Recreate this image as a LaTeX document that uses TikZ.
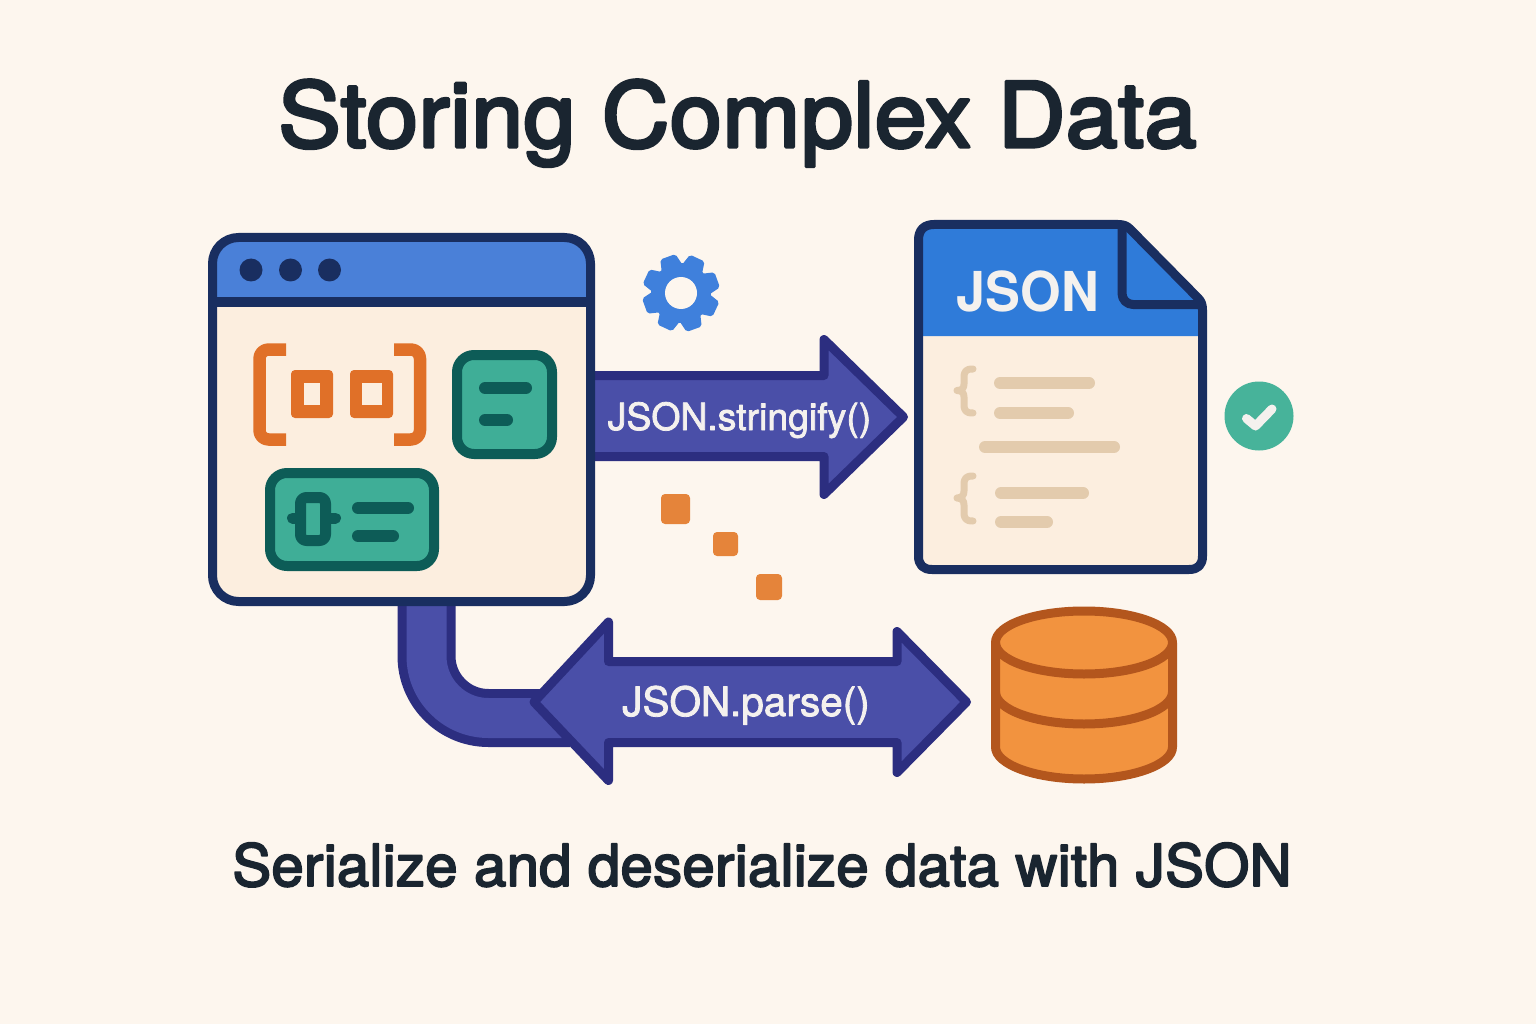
\documentclass[tikz,border=0pt]{standalone}
\usepackage{fontspec}
\setmainfont{TeX Gyre Heros}
\newfontfamily\midfont[FakeBold=2.0]{TeX Gyre Heros}
\newfontfamily\headfont[FakeBold=3.2,LetterSpace=0.6]{TeX Gyre Heros}
\newfontfamily\bigfont[FakeBold=3.6,FakeStretch=1.04,LetterSpace=0.4]{TeX Gyre Heros}
\newfontfamily\jsonfont[FakeStretch=0.95]{TeX Gyre Heros}
\usetikzlibrary{calc}
\definecolor{bgc}{HTML}{FDF6EE}
\definecolor{ink}{HTML}{1A2530}
\definecolor{navy}{HTML}{192E60}
\definecolor{winblue}{HTML}{4A80D8}
\definecolor{docblue}{HTML}{2F7BD9}
\definecolor{gearblue}{HTML}{3F80DC}
\definecolor{cream}{HTML}{FCEEDF}
\definecolor{brk}{HTML}{E07028}
\definecolor{teal}{HTML}{3FAE97}
\definecolor{tealdk}{HTML}{0D5C57}
\definecolor{beige}{HTML}{E3CBAD}
\definecolor{checkg}{HTML}{47B39A}
\definecolor{arrowf}{HTML}{4A4FA8}
\definecolor{arrowd}{HTML}{2C2E80}
\definecolor{sq}{HTML}{E5843A}
\definecolor{dbf}{HTML}{F2933F}
\definecolor{dbd}{HTML}{B3561D}
\definecolor{lab}{HTML}{F4F1EE}
\tikzset{
  x=1pt,y=-1pt,
  titletext/.style={anchor=base,text=ink,inner sep=0pt,font=\bigfont\fontsize{90}{100}\selectfont},
  subtext/.style={anchor=base,text=ink,inner sep=0pt,font=\headfont\fontsize{58}{64}\selectfont},
  arrowlabel/.style={anchor=base,text=lab,inner sep=0pt,font=\midfont\fontsize{37.4}{40}\selectfont},
  parselabel/.style={arrowlabel,font=\midfont\fontsize{40.5}{44}\selectfont},
  fatarrow/.style={draw=arrowd,fill=arrowf,line width=9pt},
  winframe/.style={draw=navy,line width=9pt},
  codebar/.style={draw=beige,line width=12pt,line cap=round},
  bracket/.style={draw=brk,line width=12.5pt,rounded corners=9pt},
  cardframe/.style={draw=tealdk,fill=teal,line width=10pt,rounded corners=17pt},
  cardbar/.style={draw=tealdk,line width=12pt,line cap=round},
  crumb/.style={fill=sq,rounded corners=4pt},
  brace/.style={draw=beige,line width=7pt,line cap=round},
  dbline/.style={draw=dbd,line width=9pt},
}
\newcommand{\halfell}[1]{(995.5,#1) .. controls (995.5,#1+17.5) and (1035,#1+32) .. (1084,#1+32) .. controls (1133,#1+32) and (1172.5,#1+17.5) .. (1172.5,#1)}
\begin{document}
\begin{tikzpicture}[line join=round]
\useasboundingbox (0,0) rectangle (1536,1024);
\fill[bgc] (0,0) rectangle (1536,1024);

% title and caption
\node[titletext] (title) at (737.5,147) {Storing Complex Data};
\node[subtext] (caption) at (762,886) {Serialize and deserialize data with JSON};

% elbow from window to parse arrow (behind)
\coordinate (win) at (401.5,419.5);
\coordinate (parsepos) at (746,716);
\coordinate (elbowstart) at ($(win)+(25,170)$);
\coordinate (elbowend) at ($(parsepos)+(-176,2)$);
\draw[draw=arrowd,line width=58pt,rounded corners=62pt] (elbowstart) |- (elbowend);
\draw[draw=arrowf,line width=40pt,rounded corners=62pt] (elbowstart) |- (elbowend);

% stringify arrow
\draw[fatarrow] (580,375.5) -- (824,375.5) -- (824,339.5) -- (903.5,417) -- (824,494.5) -- (824,456.5) -- (580,456.5) -- cycle;
\node[arrowlabel] (stringify) at (739.5,430) {JSON.stringify()};

% parse arrow
\draw[fatarrow] (534,702) -- (608.5,622) -- (608.5,661.5) -- (897,661.5) -- (897,631.5) -- (966.5,702) -- (897,772.5) -- (897,742.5) -- (608.5,742.5) -- (608.5,780.5) -- cycle;
\node[parselabel] (parse) at (parsepos) {JSON.parse()};

% window
\fill[cream,rounded corners=26pt] (212.5,237.5) rectangle (590.5,601.5);
\begin{scope}
\clip (200,225) rectangle (600,301);
\fill[winblue,rounded corners=26pt] (212.5,237.5) rectangle (590.5,400);
\end{scope}
\draw[winframe,rounded corners=26pt] (212.5,237.5) rectangle (590.5,601.5);
\draw[draw=navy,line width=10pt] (212.5,301.5) -- (590.5,301.5);
\foreach \px in {251,290.5,329.5} \fill[navy] (\px,270) circle[radius=11.5pt];

% array icon
\draw[bracket] (286,349.5) -- (259.5,349.5) -- (259.5,439.5) -- (286,439.5);
\draw[bracket] (394,349.5) -- (420,349.5) -- (420,439.5) -- (394,439.5);
\fill[brk,rounded corners=4pt] (291,370) rectangle (333,418);
\fill[cream] (304,383) rectangle (320,405);
\fill[brk,rounded corners=4pt] (350,370) rectangle (393,418);
\fill[cream] (362,383) rectangle (382,405);

% cards
\draw[cardframe] (457,355) rectangle (552,454);
\draw[cardbar] (485,388) -- (526,388);
\draw[cardbar] (485,420) -- (507,420);
\draw[cardframe] (270,473) rectangle (434,566);
\draw[tealdk,line width=11pt,line cap=round] (292.5,518) -- (335.5,518);
\draw[draw=tealdk,fill=teal,line width=11pt,rounded corners=6pt] (300.5,497.5) rectangle (325.5,540.5);
\draw[cardbar] (358,508) -- (408,508);
\draw[cardbar] (358,536) -- (393,536);

% JSON document
\fill[cream] (918.5,240) .. controls (918.5,230) and (924,224.5) .. (934,224.5) -- (1122,224.5) -- (1202.5,305) -- (1202.5,556) .. controls (1202.5,565) and (1198,569.5) .. (1189,569.5) -- (932,569.5) .. controls (923,569.5) and (918.5,565) .. (918.5,556) -- cycle;
\fill[docblue] (918.5,240) .. controls (918.5,230) and (924,224.5) .. (934,224.5) -- (1122,224.5) -- (1202.5,305) -- (1202.5,336) -- (918.5,336) -- cycle;
\draw[draw=navy,line width=9pt] (918.5,240) .. controls (918.5,230) and (924,224.5) .. (934,224.5) -- (1118,224.5) .. controls (1124,224.5) and (1127,226) .. (1130,229) -- (1198,298) .. controls (1201,301) and (1202.5,304) .. (1202.5,310) -- (1202.5,556) .. controls (1202.5,565) and (1198,569.5) .. (1189,569.5) -- (932,569.5) .. controls (923,569.5) and (918.5,565) .. (918.5,556) -- cycle;
\draw[draw=navy,line width=9pt,rounded corners=11pt] (1122,226) -- (1122,304.5) -- (1200,304.5);
\node[anchor=base,text=lab,inner sep=0pt,font=\jsonfont\bfseries\fontsize{55}{60}\selectfont] (jsonlabel) at (1028,311) {JSON};
\draw[codebar] (1000,383) -- (1089,383);
\draw[codebar] (1000,413) -- (1068,413);
\draw[codebar] (985,447) -- (1114,447);
\draw[codebar] (1001,493) -- (1083,493);
\draw[codebar] (1001,522) -- (1047,522);
\draw[brace] (973,369) .. controls (966,369) and (964,371) .. (964,378) -- (964,384) .. controls (964,388) and (962,390.5) .. (957,390.5) .. controls (962,390.5) and (964,393) .. (964,397) -- (964,404) .. controls (964,411) and (966,413) .. (973,413);
\draw[brace] (973,476) .. controls (966,476) and (964,478) .. (964,485) -- (964,491) .. controls (964,495) and (962,498) .. (957,498) .. controls (962,498) and (964,501) .. (964,505) -- (964,512) .. controls (964,519) and (966,521) .. (973,521);

% check badge
\node[circle,fill=checkg,minimum size=69pt,inner sep=0pt] (badge) at (1259,416) {};
\draw[draw=lab,line width=9pt,line cap=round] ($(badge)+(-12.5,2.5)$) -- ($(badge)+(-3.5,10)$) -- ($(badge)+(13,-7)$);

% gear
\coordinate (gear) at (681,293);
\foreach \ang in {20,65,110,155,200,245,290,335}{
  \fill[gearblue,rotate around={\ang:(gear)},rounded corners=2pt] ($(gear)+(26,-11)$) -- ($(gear)+(38.5,-8)$) -- ($(gear)+(38.5,8)$) -- ($(gear)+(26,11)$) -- cycle;
}
\fill[gearblue] (gear) circle[radius=30pt];
\fill[bgc] (gear) circle[radius=16pt];

% crumbs
\fill[crumb] (661,494) rectangle (690,524);
\fill[crumb] (713,532) rectangle (738,556);
\fill[crumb] (756,574) rectangle (782,600);

% database
\coordinate (db) at (1084,695);
\path[fill=dbf] (995.5,642.5) -- \halfell{747} -- (1172.5,642.5) -- cycle;
\draw[dbline,fill=dbf] (995.5,642.5) .. controls (995.5,625) and (1035,611) .. (1084,611) .. controls (1133,611) and (1172.5,625) .. (1172.5,642.5) .. controls (1172.5,660) and (1133,674) .. (1084,674) .. controls (1035,674) and (995.5,660) .. (995.5,642.5) -- cycle;
\draw[dbline] \halfell{692};
\draw[dbline] (995.5,642.5) -- \halfell{747} -- (1172.5,642.5);
\end{tikzpicture}
\end{document}
